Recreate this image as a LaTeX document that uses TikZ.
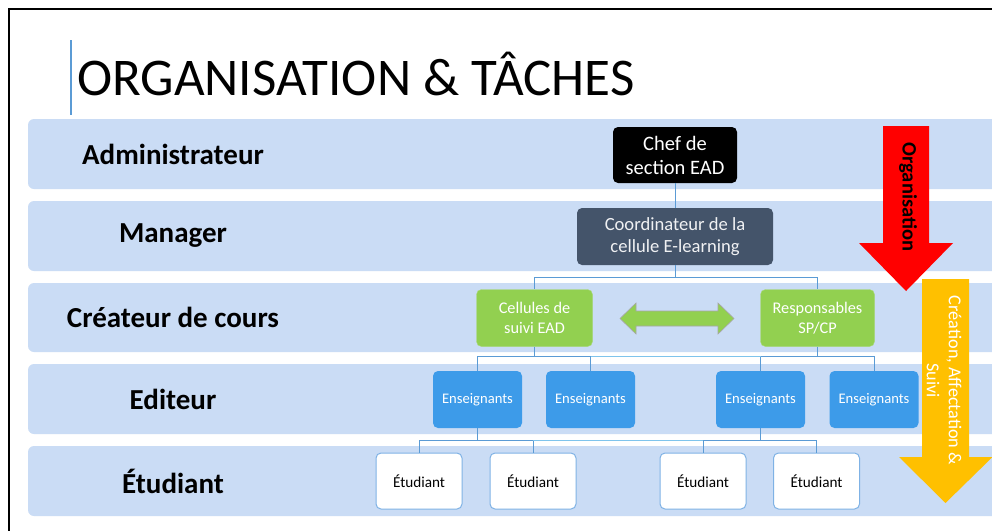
\documentclass[tikz,border=0pt]{standalone}
\usepackage{fontspec}
\setmainfont{Carlito}
\usetikzlibrary{calc}
\definecolor{band}{HTML}{CADCF5}
\definecolor{conn}{HTML}{5B9BD5}
\definecolor{connlight}{HTML}{7FC4EC}
\definecolor{slate}{HTML}{44546A}
\definecolor{grn}{HTML}{92D050}
\definecolor{bbox}{HTML}{3D9BE9}
\definecolor{stuborder}{HTML}{7FB2E5}
\definecolor{ylw}{HTML}{FFC000}
\begin{document}
\begin{tikzpicture}[x=1pt,y=-1pt,
  bandbox/.style={fill=band,draw=none,rounded corners=6pt},
  rolelabel/.style={font=\fontsize{29}{32}\selectfont\bfseries,text=black},
  orgbox/.style={rounded corners=5pt,align=center,inner sep=0pt},
  conline/.style={draw=conn,line width=0.9pt},
  conlight/.style={draw=connlight,line width=0.9pt}]
\useasboundingbox (0,0) rectangle (992,530);
\fill[white] (0,0) rectangle (992,530);
% frame
\draw[line width=2pt] (9,540) -- (9,9) -- (1000,9);
% title
\draw[conn,line width=1.5pt] (71,40) -- (71,115);
\node[anchor=base west,inner sep=0pt,font=\fontsize{53}{60}\selectfont] (title) at (77,95) {ORGANISATION \& TÂCHES};
% bands
\foreach \yt/\yb [count=\i] in {119/189,201/271,283/352,364/434,446/516}{
  \path[bandbox] (28,\yt) rectangle (1000,\yb);
}
\node[rolelabel] (l1) at (173,154) {Administrateur};
\node[rolelabel] (l2) at (173,236) {Manager};
\node[rolelabel] (l3) at (173,317) {Créateur de cours};
\node[rolelabel] (l4) at (173,399) {Editeur};
\node[rolelabel] (l5) at (173,481) {Étudiant};
% big arrows
\fill[red] (883,126) -- (929,126) -- (929,243) -- (953,243) -- (906,291) -- (859,243) -- (883,243) -- cycle;
\node[rotate=-90,font=\fontsize{20.5}{22}\selectfont\bfseries,inner sep=0pt] (orgtext) at (908,197) {Organisation};
\fill[ylw] (922,279) -- (969,279) -- (969,457) -- (992.5,457) -- (945.5,503) -- (899,457) -- (922,457) -- cycle;
\node[rotate=-90,font=\fontsize{18.2}{22}\selectfont,text=white,align=center,inner sep=0pt] (cretext) at (944,380.5) {Création, Affectation \&\\Suivi};
% org nodes
\node[orgbox,fill=black,text=white,minimum width=124pt,minimum height=56pt,font=\fontsize{20.5}{24}\selectfont] (chef) at (675,155) {Chef de\\section EAD};
\node[orgbox,fill=slate,text=white!92!slate,minimum width=196pt,minimum height=57pt,font=\fontsize{18.6}{22}\selectfont] (coord) at (675,236.5) {Coordinateur de la\\cellule E-learning};
\node[orgbox,fill=grn,draw=grn!80!white,text=white,minimum width=116pt,minimum height=57pt,font=\fontsize{16.3}{20}\selectfont] (cell) at (534.5,318) {Cellules de\\suivi EAD};
\node[orgbox,fill=grn,draw=grn!80!white,text=white,minimum width=114pt,minimum height=57pt,font=\fontsize{16.3}{20}\selectfont] (resp) at (817.5,318) {Responsables\\SP/CP};
\filldraw[fill=grn,draw=gray!70,line width=0.6pt] (620,318.5) -- (636,303) -- (636,311) -- (718,311) -- (718,303) -- (734,318.5) -- (718,334) -- (718,326) -- (636,326) -- (636,334) -- cycle;
\foreach \n/\x in {e1/477.5,e2/590.5,e3/760.5,e4/874}{
  \node[orgbox,fill=bbox,text=white,minimum width=89pt,minimum height=57pt,font=\fontsize{14.6}{17}\selectfont] (\n) at (\x,399.5) {Enseignants};
}
\foreach \n/\x in {s1/419,s2/533,s3/703,s4/816.5}{
  \node[orgbox,fill=white,draw=stuborder,line width=1pt,text=black,minimum width=86pt,minimum height=56pt,font=\fontsize{15.2}{17}\selectfont] (\n) at (\x,481) {Étudiant};
}
% connectors
\draw[conline] (chef.south) -- (coord.north);
\draw[conline] (coord.south) -- ++(0,12) coordinate (j1) -| (cell.north);
\draw[conline] (j1) -| (resp.north);
\draw[conline] (cell.south) -- ++(0,10) coordinate (j2) -| (e1.north);
\draw[conline] (j2) -| (e2.north);
\draw[conline] (resp.south) -- ++(0,10) coordinate (j3) -| (e3.north);
\draw[conline] (j3) -| (e4.north);
\draw[conlight] (e2.north |- j2) -- (e3.north |- j3);
\draw[conline] (e1.south) -- ++(0,12) coordinate (j4) -| (s1.north);
\draw[conline] (j4) -| (s2.north);
\draw[conline] (e3.south) -- ++(0,12) coordinate (j5) -| (s3.north);
\draw[conline] (j5) -| (s4.north);
\draw[conlight] (s2.north |- j4) -- (s3.north |- j5);
\end{tikzpicture}
\end{document}
